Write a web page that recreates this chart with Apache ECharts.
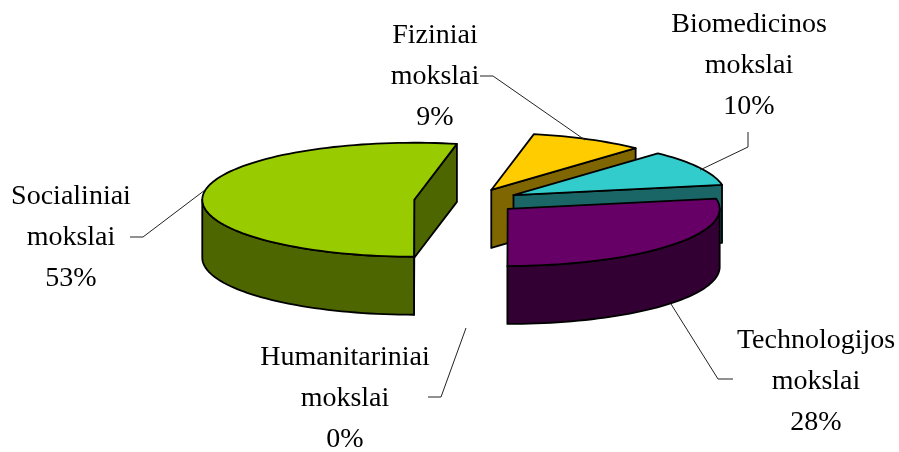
<!DOCTYPE html>
<html><head><meta charset="utf-8">
<style>html,body{margin:0;padding:0;background:#fff}#c{width:899px;height:452px}</style>
<script src="https://cdn.jsdelivr.net/npm/echarts@6/dist/echarts.min.js"></script>
</head><body><div id="c"></div>
<script>
// Data, clockwise from the first slice (estimated shares; labels are rounded)
const categories = ['Fiziniai', 'Biomedicinos', 'Technologijos', 'Humanitariniai', 'Socialiniai'];
const suffix = 'mokslai';
const shares = [8.7, 10.2, 27.9, 0, 53.2];

// Styles
const topColors = ['#FFCC00', '#33CCCC', '#660066', '#FF99CC', '#99CC00'];
const sideColors = ['#806600', '#1A6666', '#330033', '#804D66', '#4D6600'];

// Layout of the projected pie
const pie = {cx: 467, cy: 201, rx: 212, ry: 57, depth: 58, explodeX: 53, explodeY: 12.4, firstAngle: 11.6};
const labelCentres = [[435, 77], [749, 66], [816, 382], [345, 399], [71, 238]];
const leaders = [
  [[480, 76], [493, 76], [585, 140]],
  [[748, 132], [748, 147], [700, 170]],
  [[733, 379], [718, 379], [671, 304]],
  [[428, 397], [441, 397], [466, 328]],
  [[130, 237], [143, 237], [205, 190]]
];

const total = shares.reduce((a, b) => a + b, 0);
const rad = d => d * Math.PI / 180;
const rim = (c, a, dz) => [c[0] + pie.rx * Math.sin(rad(a)), c[1] - pie.ry * Math.cos(rad(a)) + (dz || 0)];
function arc(c, from, to, dz) {
  const pts = [], n = Math.max(1, Math.ceil(Math.abs(to - from) / 2));
  for (let i = 0; i <= n; i++) pts.push(rim(c, from + (to - from) * i / n, dz));
  return pts;
}
let acc = pie.firstAngle;
const spans = shares.map(v => { const s = acc; acc += v / total * 360; return [s, acc]; });

function poly(points, fill) {
  return {type: 'polygon', shape: {points},
    style: {fill, stroke: '#000', lineWidth: 1.8, lineJoin: 'round'}};
}
function renderItem(params, api) {
  const i = params.dataIndex, value = api.value(0), children = [];
  const [a0, a1] = spans[i];
  if (value > 0) {
    const mid = (a0 + a1) / 2;
    const c = [pie.cx + pie.explodeX * Math.sin(rad(mid)), pie.cy - pie.explodeY * Math.cos(rad(mid))];
    const d = pie.depth, low = p => [p[0], p[1] + d];
    // radial cut faces that look toward the viewer
    [a0, a1].forEach((a, k) => {
      const s = Math.sin(rad(a));
      if ((k === 0 && s < -1e-6) || (k === 1 && s > 1e-6)) {
        const r = rim(c, a);
        children.push(poly([c, r, low(r), low(c)], sideColors[i]));
      }
    });
    // outer wall on the front half
    const f0 = Math.max(a0, 90), f1 = Math.min(a1, 270);
    if (f1 > f0) {
      const upper = arc(c, f0, f1), lower = upper.map(low).reverse();
      children.push(poly(upper.concat(lower), sideColors[i]));
    }
    children.push(poly([c].concat(arc(c, a0, a1)), topColors[i]));
  }
  children.push({type: 'polyline', shape: {points: leaders[i]},
    style: {fill: null, stroke: '#222', lineWidth: 1}, z2: 5});
  children.push({type: 'text', x: labelCentres[i][0], y: labelCentres[i][1], z2: 6,
    style: {text: categories[i] + '\n' + suffix + '\n' + Math.round(value) + '%',
      font: '28px "Liberation Serif"', lineHeight: 41, fill: '#000', align: 'center', verticalAlign: 'middle'}});
  return {type: 'group', children};
}
const chart = echarts.init(document.getElementById('c'), null, {renderer: 'canvas'});
chart.setOption({
  animation: false,
  backgroundColor: '#fff',
  series: [{type: 'custom', coordinateSystem: 'none', renderItem,
    data: shares.map((v, i) => ({name: categories[i], value: [v]}))}]
});
</script></body></html>
